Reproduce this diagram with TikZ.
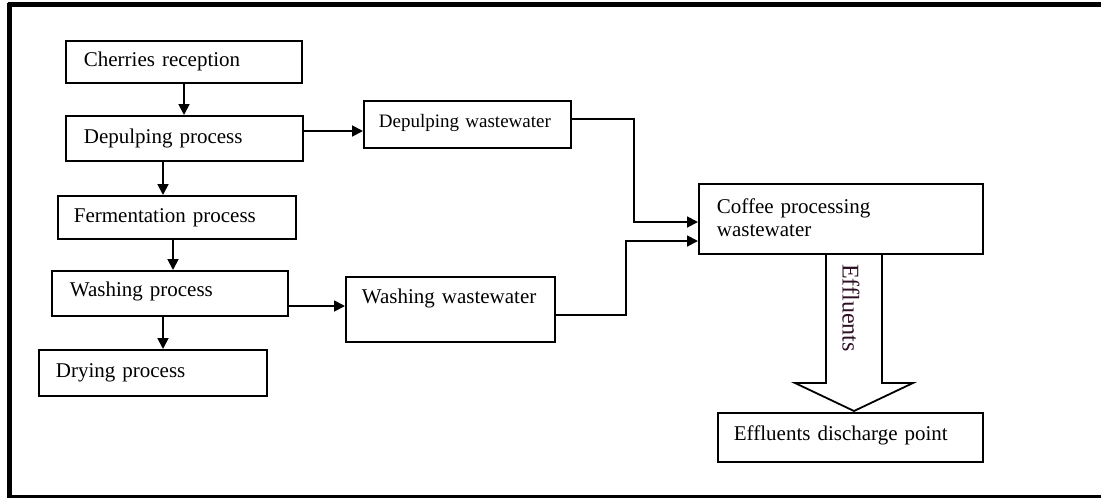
\documentclass[tikz,border=0pt]{standalone}
\usepackage{fontspec}
\setmainfont{Liberation Serif}
\usetikzlibrary{arrows.meta}
\definecolor{efftext}{RGB}{45,15,35}
\begin{document}
\begin{tikzpicture}[x=1pt,y=-1pt,
  pbox/.style={draw, line width=1.8pt, anchor=north west, align=left,
    inner ysep=0pt, text height=15pt, text depth=5pt, font=\fontsize{21}{23}\selectfont},
  arr/.style={line width=1.8pt, -{Triangle[length=11pt,width=11pt]}},
  frame/.style={line width=#1}]
\useasboundingbox (0,0) rectangle (1101,498);
% outer frame
\draw[frame=4.5pt] (9.5,3) -- (9.5,497.5);
\draw[frame=4.5pt] (7.5,4.5) -- (1101,4.5);
\draw[frame=2.2pt] (7.5,496.5) -- (1101,496.5);
% process boxes
\node[pbox, minimum width=236pt, minimum height=42pt, inner xsep=18pt, text width=200pt] (cr) at (65,40) {Cherries reception};
\node[pbox, minimum width=237pt, minimum height=45pt, inner xsep=18pt, text width=201pt] (dp) at (65,115) {Depulping process};
\node[pbox, minimum width=238pt, minimum height=43pt, inner xsep=16pt, text width=206pt] (fp) at (57,195) {Fermentation process};
\node[pbox, minimum width=236pt, minimum height=45pt, inner xsep=18pt, text width=200pt, text depth=9pt] (wp) at (51,270) {Washing process};
\node[pbox, minimum width=228pt, minimum height=46pt, inner xsep=17pt, text width=194pt] (dr) at (38,349) {Drying process};
% wastewater boxes
\node[pbox, minimum width=207pt, minimum height=47pt, inner xsep=15pt, text width=177pt, font=\fontsize{19}{21}\selectfont, text depth=8pt] (dw) at (363,100) {Depulping wastewater};
\node[pbox, minimum width=209pt, minimum height=65pt, inner xsep=16pt, text width=177pt, text depth=27pt] (ww) at (345,276) {Washing wastewater};
\node[pbox, minimum width=284pt, minimum height=70pt, inner xsep=18pt, text width=248pt, text depth=26pt] (cp) at (698,183) {Coffee processing\\wastewater};
\node[pbox, minimum width=265pt, minimum height=49pt, inner xsep=16pt, text width=233pt, text depth=8pt] (ed) at (717,412) {Effluents discharge point};
% main chain
\draw[arr] (cr.south -| 184,0) -- (dp.north -| 184,0);
\draw[arr] (dp.south -| 163,0) -- (fp.north -| 163,0);
\draw[arr] (fp.south -| 173,0) -- (wp.north -| 173,0);
\draw[arr] (wp.south -| 163,0) -- (dr.north -| 163,0);
% side branches
\draw[arr] (dp.east |- 0,131) -- (dw.west |- 0,131);
\draw[arr] (wp.east |- 0,306) -- (ww.west |- 0,306);
% to coffee processing wastewater
\coordinate (j1) at (634,222);
\coordinate (j2) at (626,241);
\draw[arr] (dw.east |- 0,119) -| (j1) -- (j1 -| cp.west);
\draw[arr] (ww.east |- 0,315) -| (j2) -- (j2 -| cp.west);
% big hollow arrow
\draw[line width=1.8pt, line join=miter] (826,253) -- (826,383) -- (795,383) -- (854,411) -- (913,383) -- (882,383) -- (882,253);
\node[rotate=-90, inner sep=0pt, font=\fontsize{24}{26}\selectfont, text=efftext] (eff) at (851,308) {Effluents};
\end{tikzpicture}
\end{document}
